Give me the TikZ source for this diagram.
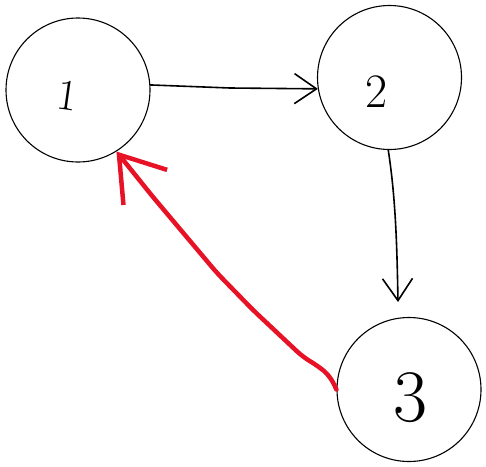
\documentclass[tikz,border=0pt]{standalone}
\usepackage{fontspec}
\setmainfont{Latin Modern Roman}
\usetikzlibrary{arrows.meta}
\definecolor{penred}{RGB}{232,18,38}
\begin{document}
\begin{tikzpicture}[x=1pt,y=-1pt,
  state/.style={draw,circle,line width=1.1pt,minimum size=144pt,inner sep=0pt},
  ink/.style={line width=1.6pt,line cap=round,line join=round},
  barb/.style={-{Straight Barb[length=22pt,width=30pt,line width=1.6pt]}},
  redink/.style={draw=penred,line width=4.5pt,line cap=round,line join=round,rounded corners=8pt,
    -{Straight Barb[length=42pt,width=56pt,line width=4.5pt]}}]
\useasboundingbox (0,0) rectangle (486,466);
\node[state] (n1) at (78,90) {};
\node[state] (n2) at (389.5,77.5) {};
\node[state] (n3) at (409,389.5) {};
\node[font=\fontsize{44}{44}\selectfont,rotate=-8] (l1) at (68,96) {1};
\node[font=\fontsize{48}{48}\selectfont] (l2) at (377,92) {2};
\node[font=\fontsize{74}{74}\selectfont] (l3) at (410,398) {3};
\coordinate (c23) at (398,302);
\draw[ink,barb] (n1.4) -- (230,88) -- (n2.189);
\draw[ink,barb] (n2.269) .. controls (396,200) and (397,250) .. (c23);
\draw[redink] (n3.180) -- (330,376) -- (318,366) -- (303,357) -- (253,310) -- (217,273) -- (153,197) -- (n1.302);
\end{tikzpicture}
\end{document}
